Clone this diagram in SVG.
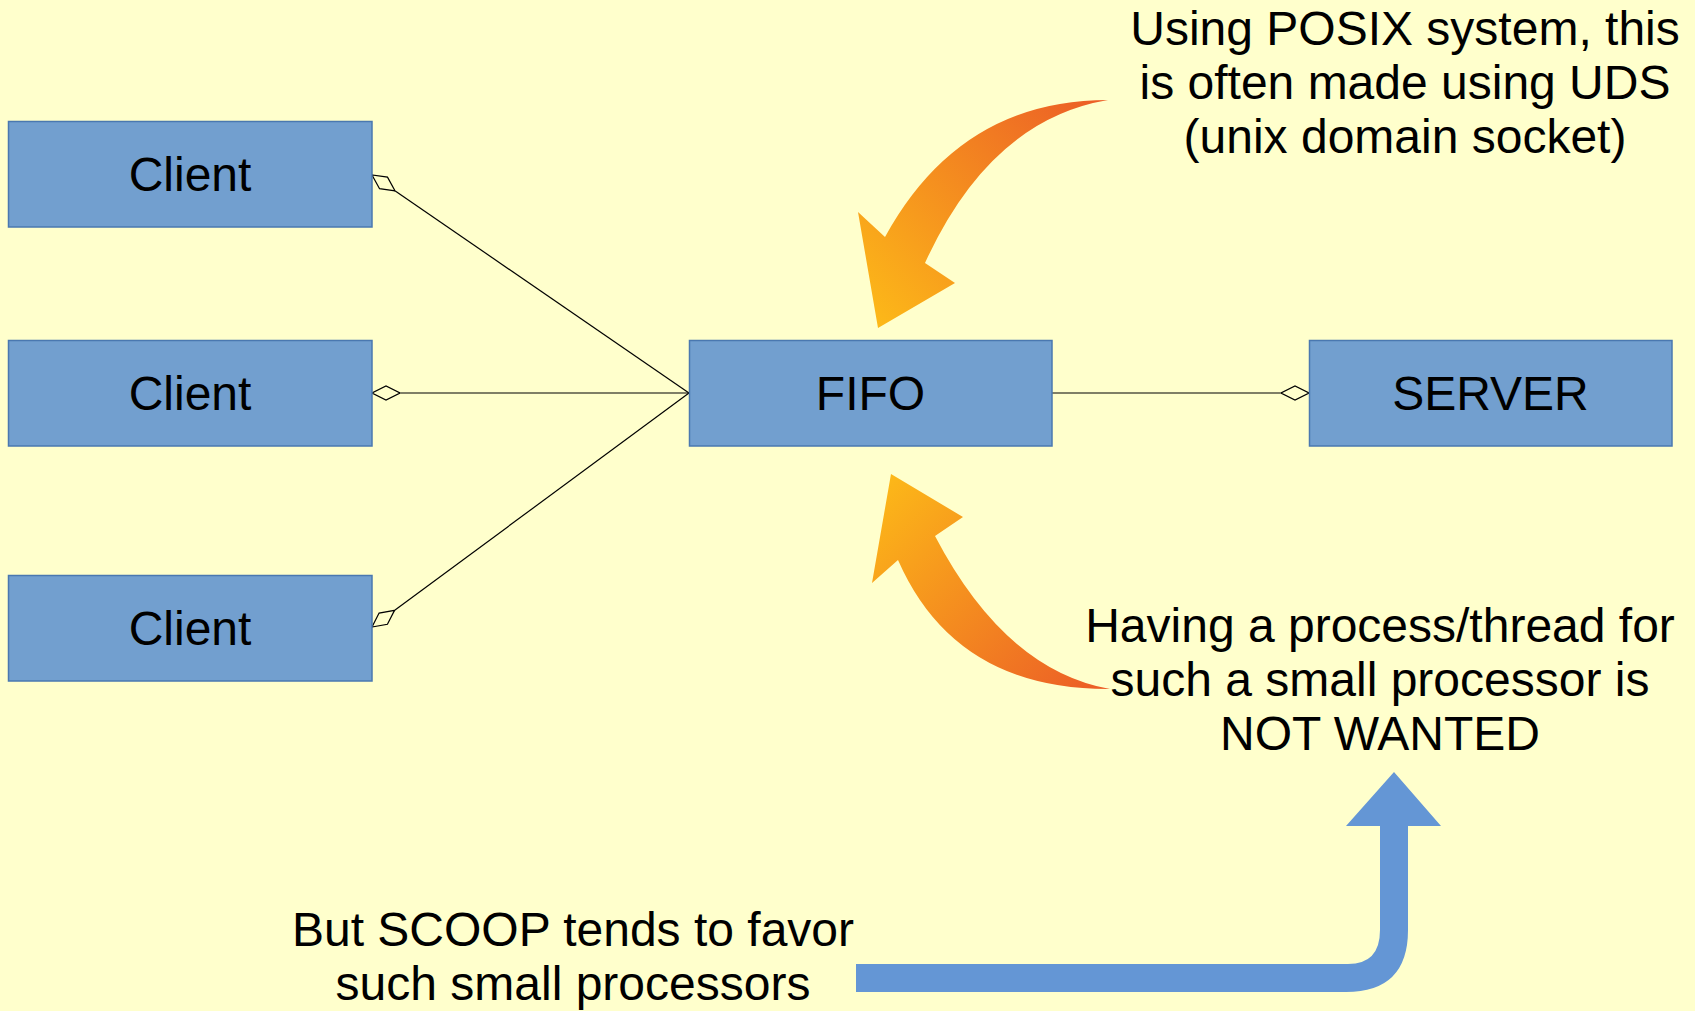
<svg xmlns="http://www.w3.org/2000/svg" width="1695" height="1011" viewBox="0 0 1695 1011">
<defs>
<style>
.box{fill:#729fcf;stroke:#4a78b0;stroke-width:1.5}
.t{font-family:"Liberation Sans",Arial,sans-serif;font-size:48px;fill:#000;text-anchor:middle}
.c{stroke:#000;stroke-width:1.2;fill:none}
</style>
<marker id="dia" viewBox="0 0 28 16" refX="28" refY="8" markerWidth="28" markerHeight="16" markerUnits="userSpaceOnUse" orient="auto">
<path d="M0,8 L14,1 L28,8 L14,15 Z" fill="#ffffcc" stroke="#000" stroke-width="1.2"/>
</marker>
<linearGradient id="g1" gradientUnits="userSpaceOnUse" x1="1090" y1="100" x2="860" y2="320">
<stop offset="0" stop-color="#ec5f26"/>
<stop offset="1" stop-color="#fdbb18"/>
</linearGradient>
<linearGradient id="g2" gradientUnits="userSpaceOnUse" x1="1090" y1="690" x2="870" y2="480">
<stop offset="0" stop-color="#ec5f26"/>
<stop offset="1" stop-color="#fdbb18"/>
</linearGradient>
</defs>
<rect width="1695" height="1011" fill="#ffffcc"/>
<g id="connectors">
<line class="c" x1="689" y1="393" x2="372" y2="175" marker-end="url(#dia)"/>
<line class="c" x1="689" y1="393" x2="372" y2="393" marker-end="url(#dia)"/>
<line class="c" x1="689" y1="393" x2="372" y2="627" marker-end="url(#dia)"/>
<line class="c" x1="1052" y1="393" x2="1309" y2="393" marker-end="url(#dia)"/>
</g>
<g id="client1"><rect class="box" x="8.5" y="121.5" width="363.5" height="105.5"/><text class="t" x="190" y="191">Client</text></g>
<g id="client2"><rect class="box" x="8.5" y="340.5" width="363.5" height="105.5"/><text class="t" x="190" y="410">Client</text></g>
<g id="client3"><rect class="box" x="8.5" y="575.5" width="363.5" height="105.5"/><text class="t" x="190" y="645">Client</text></g>
<g id="fifo"><rect class="box" x="689.5" y="340.5" width="362.5" height="105.5"/><text class="t" x="870.5" y="410">FIFO</text></g>
<g id="server"><rect class="box" x="1309.5" y="340.5" width="362.5" height="105.5"/><text class="t" x="1490.5" y="410">SERVER</text></g>
<g id="arrow-top">
<path d="M1108,100 Q960,100 885,237 L858,212 L878,328 L955,283 L925,263 Q990,120 1108,100 Z" fill="url(#g1)"/>
</g>
<g id="arrow-bottom">
<path d="M1110,689 Q955,690 898,560 L872,583 L891,474 L963,517 L935,536 Q1005,670 1110,689 Z" fill="url(#g2)"/>
</g>
<g id="arrow-blue">
<path d="M856,964 L1348,964 Q1380,964 1380,930 L1380,826 L1346,826 L1394,772 L1441,826 L1408,826 L1408,930 Q1408,992 1346,992 L856,992 Z" fill="#6496d5"/>
</g>
<g id="note-top">
<text class="t" x="1405" y="45">Using POSIX system, this</text>
<text class="t" x="1405" y="99">is often made using UDS</text>
<text class="t" x="1405" y="153">(unix domain socket)</text>
</g>
<g id="note-mid">
<text class="t" x="1380" y="642">Having a process/thread for</text>
<text class="t" x="1380" y="696">such a small processor is</text>
<text class="t" x="1380" y="750">NOT WANTED</text>
</g>
<g id="note-bottom">
<text class="t" x="573" y="946">But SCOOP tends to favor</text>
<text class="t" x="573" y="1000">such small processors</text>
</g>
</svg>
